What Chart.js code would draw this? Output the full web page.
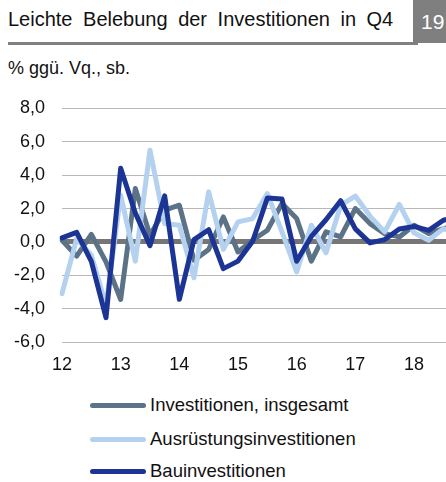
<!DOCTYPE html>
<html>
<head>
<meta charset="utf-8">
<script src="https://cdn.jsdelivr.net/npm/chart.js@4/dist/chart.umd.min.js"></script>
<style>
  html, body { margin: 0; padding: 0; background: #fff; }
  body { width: 446px; height: 482px; overflow: hidden; position: relative; font-family: "Liberation Sans", Arial, sans-serif; color: #111; }
  #title { position: absolute; left: 8px; top: 8px; font-size: 20px; word-spacing: 5px; white-space: nowrap; }
  #num { position: absolute; left: 413px; top: 0; width: 40px; height: 43px; background: #7f7f7f; color: #fff; font-size: 21px; line-height: 43px; padding-left: 8px; box-sizing: border-box; }
  #rule { position: absolute; left: 8px; top: 42px; width: 410px; height: 3px; background: #808080; }
  #sub { position: absolute; left: 8px; top: 58px; font-size: 18px; white-space: nowrap; }
  #wrap { position: absolute; left: 0; top: 90px; width: 470px; height: 292px; }
  .leg { position: absolute; left: 90px; font-size: 18.5px; white-space: nowrap; display: flex; align-items: center; height: 24px; }
  .leg span.ln { display: inline-block; width: 56px; height: 5px; border-radius: 3px; margin-right: 4px; }
</style>
</head>
<body>
<div id="title">Leichte Belebung der Investitionen in Q4</div>
<div id="rule"></div>
<div id="num">19</div>
<div id="sub">% ggü. Vq., sb.</div>
<div id="wrap"><canvas id="chart" width="470" height="292"></canvas></div>
<div id="legend"></div>
<script>
const quarters = [
  '12Q1', '12Q2', '12Q3', '12Q4', '13Q1', '13Q2', '13Q3', '13Q4',
  '14Q1', '14Q2', '14Q3', '14Q4', '15Q1', '15Q2', '15Q3', '15Q4',
  '16Q1', '16Q2', '16Q3', '16Q4', '17Q1', '17Q2', '17Q3', '17Q4',
  '18Q1', '18Q2', '18Q3', '18Q4'
];
const yearLabels = ['12', '13', '14', '15', '16', '17', '18'];

const insgesamt = [
  0.1, -0.85, 0.45, -1.2, -3.45, 3.2, 0.4, 1.9,
  2.2, -1.1, -0.45, 1.5, -0.6, 0.1, 0.7, 2.3,
  1.4, -1.15, 0.6, 0.3, 2.0, 1.1, 0.5, 0.3,
  1.0, 0.5, 0.8, 1.0
];
const ausruestung = [
  -3.1, 0.2, -0.8, -3.8, 2.8, -1.15, 5.5, 1.1,
  1.0, -2.15, 3.0, -0.45, 1.2, 1.4, 2.9, 0.6,
  -1.8, 1.0, -0.65, 2.2, 2.75, 1.55, 0.6, 2.25,
  0.55, 0.1, 0.8, 0.5
];
const bau = [
  0.24, 0.57, -1.16, -4.54, 4.42, 1.73, -0.22, 2.76,
  -3.44, 0.14, 0.73, -1.6, -1.15, 0.04, 2.63, 2.57,
  -1.16, 0.33, 1.33, 2.47, 0.78, -0.06, 0.14, 0.78,
  0.93, 0.69, 1.3, 1.5
];

const series = [
  { label: 'Investitionen, insgesamt', data: insgesamt, color: '#5b7287', order: 2 },
  { label: 'Ausrüstungsinvestitionen', data: ausruestung, color: '#b4d2f0', order: 1 },
  { label: 'Bauinvestitionen', data: bau, color: '#1c3594', order: 0 }
];

// legend as html, one row per series
const legendRows = [405, 439, 471];
const legend = document.getElementById('legend');
series.forEach((s, i) => {
  const row = document.createElement('div');
  row.className = 'leg';
  row.style.top = (legendRows[i] - 12) + 'px';
  row.innerHTML = '<span class="ln" style="background:' + s.color + '"></span>' + s.label;
  legend.appendChild(row);
});

const font = { family: '"Liberation Sans", Arial, sans-serif', size: 18 };

new Chart(document.getElementById('chart'), {
  type: 'line',
  data: {
    labels: quarters,
    datasets: series.map(s => ({
      label: s.label,
      data: s.data,
      borderColor: s.color,
      backgroundColor: s.color,
      borderWidth: 5,
      pointRadius: 0,
      tension: 0,
      borderJoinStyle: 'round',
      borderCapStyle: 'round',
      order: s.order
    }))
  },
  options: {
    responsive: false,
    animation: false,
    events: [],
    layout: { padding: { top: 18.5, right: 3, left: 0, bottom: 0 } },
    plugins: { legend: { display: false }, tooltip: { enabled: false } },
    scales: {
      x: {
        offset: false,
        grid: { display: false, drawTicks: false },
        border: { display: false },
        afterFit: (scale) => { scale.height = 40; },
        ticks: {
          autoSkip: false,
          maxRotation: 0,
          padding: 12,
          color: '#111',
          font: font,
          callback: (v, i) => (i % 4 === 0 ? yearLabels[i / 4] : '')
        }
      },
      y: {
        min: -6,
        max: 8,
        afterFit: (scale) => { scale.width = 62; },
        border: { display: false },
        grid: {
          drawTicks: true,
          tickLength: 17,
          tickColor: 'transparent',
          color: (ctx) => (ctx.tick && ctx.tick.value === 0 ? '#767676' : '#b8b8b8'),
          lineWidth: (ctx) => (ctx.tick && ctx.tick.value === 0 ? 5 : 1)
        },
        ticks: {
          stepSize: 2,
          padding: 0,
          color: '#111',
          font: font,
          callback: (v) => v.toFixed(1).replace('.', ',')
        }
      }
    }
  }
});
</script>
</body>
</html>
